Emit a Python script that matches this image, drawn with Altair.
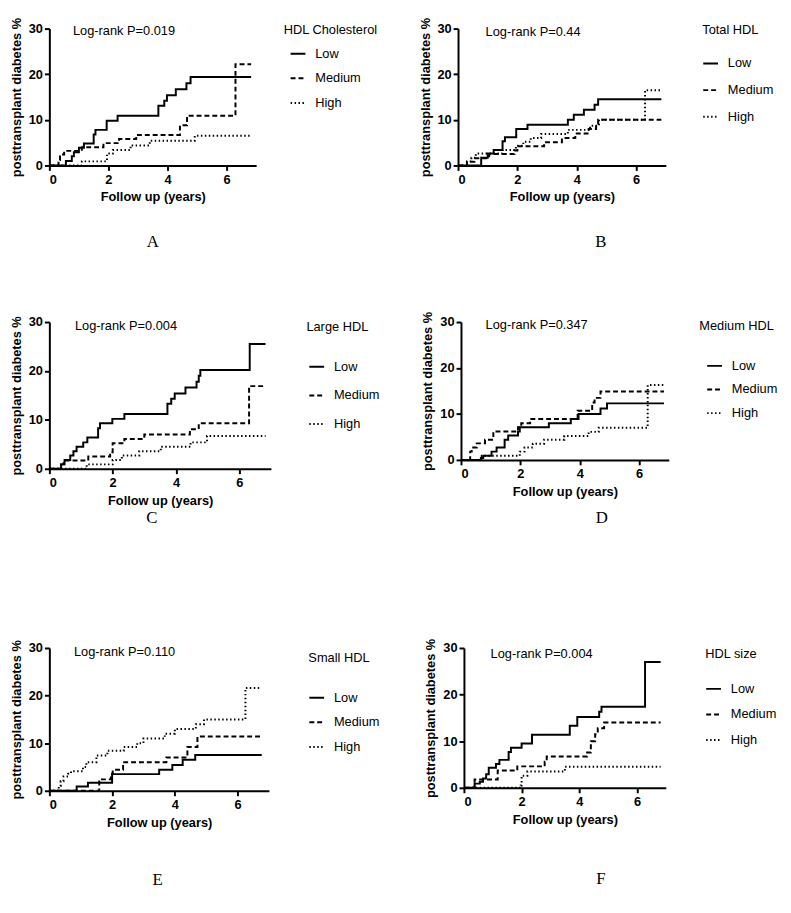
import altair as alt
import pandas as pd

GROUPS = ["Low", "Medium", "High"]
DASHES = [[1, 0], [5, 3], [1.5, 2.5]]
X_TICKS = [0, 2, 4, 6]
Y_TICKS = [0, 10, 20, 30]

# ---- Panel A: HDL Cholesterol ----
A_LOW_T = [0, 0.56, 0.76, 0.83, 1.0, 1.17, 1.5, 1.56, 1.94, 2.31, 3.69, 3.89, 3.98, 4.28, 4.64, 4.78, 6.83]
A_LOW_V = [0, 1.0, 2.0, 2.9, 3.9, 4.8, 6.8, 7.8, 9.8, 10.9, 13.1, 14.2, 15.4, 16.7, 18.0, 19.4, 19.4]
A_MED_T = [0, 0.31, 0.36, 0.5, 1.1, 1.83, 2.36, 2.94, 4.42, 4.66, 6.3, 6.83]
A_MED_V = [0, 1.2, 2.4, 3.2, 4.0, 4.9, 5.8, 6.7, 8.8, 10.9, 22.2, 22.2]
A_HIGH_T = [0, 1.1, 1.95, 2.15, 2.75, 3.4, 4.92, 6.83]
A_HIGH_V = [0, 0.9, 2.6, 3.4, 4.4, 5.4, 6.5, 6.5]

# ---- Panel B: Total HDL ----
B_LOW_T = [0, 0.78, 1.0, 1.2, 1.5, 1.58, 1.96, 2.34, 3.7, 3.9, 4.24, 4.6, 4.72, 6.85]
B_LOW_V = [0, 1.7, 2.6, 3.4, 5.3, 6.2, 8.0, 8.9, 10.0, 11.1, 12.2, 13.3, 14.5, 14.5]
B_MED_T = [0, 0.3, 0.55, 1.05, 1.9, 2.0, 2.9, 3.5, 3.95, 4.4, 4.65, 4.72, 6.85]
B_MED_V = [0, 0.8, 1.6, 2.5, 3.3, 4.2, 5.1, 6.0, 7.0, 8.0, 9.0, 10.0, 10.0]
B_HIGH_T = [0, 0.3, 0.45, 0.6, 1.5, 1.95, 2.2, 2.45, 2.8, 3.7, 4.45, 4.75, 6.3, 6.85]
B_HIGH_V = [0, 0.9, 1.7, 2.6, 3.4, 4.3, 5.2, 6.0, 6.9, 7.8, 8.7, 10.0, 16.5, 16.5]

# ---- Panel C: Large HDL ----
C_LOW_T = [0, 0.37, 0.48, 0.66, 0.76, 0.86, 1.07, 1.2, 1.54, 1.6, 1.99, 2.37, 3.73, 3.85, 3.96, 4.3, 4.65, 4.72, 4.77, 6.33, 6.83]
C_LOW_V = [0, 0.9, 1.8, 2.7, 3.6, 4.5, 5.4, 6.4, 8.3, 9.3, 10.2, 11.2, 13.3, 14.3, 15.4, 16.6, 17.8, 19.0, 20.2, 25.5, 25.5]
C_MED_T = [0, 0.37, 0.45, 1.23, 1.92, 2.0, 2.37, 3.0, 4.44, 4.72, 6.31, 6.83]
C_MED_V = [0, 0.9, 1.7, 2.5, 3.4, 5.2, 6.1, 7.0, 8.1, 9.3, 16.9, 16.9]
C_HIGH_T = [0, 1.18, 2.0, 2.29, 2.84, 3.52, 4.46, 4.98, 6.83]
C_HIGH_V = [0, 0.9, 1.8, 2.7, 3.6, 4.5, 5.4, 6.7, 6.7]

# ---- Panel D: Medium HDL ----
D_LOW_T = [0, 0.67, 0.75, 1.03, 1.2, 1.47, 1.59, 1.92, 1.98, 2.96, 3.7, 3.96, 4.7, 4.92, 6.84]
D_LOW_V = [0, 0.4, 0.9, 1.8, 2.7, 4.4, 5.3, 6.2, 7.1, 8.0, 8.9, 10.0, 11.2, 12.3, 12.3]
D_MED_T = [0, 0.31, 0.36, 0.53, 0.81, 1.09, 1.92, 2.03, 2.33, 3.93, 4.42, 4.5, 4.7, 6.84]
D_MED_V = [0, 1.8, 2.7, 3.6, 4.4, 6.2, 7.1, 8.0, 8.9, 10.7, 12.5, 13.5, 14.9, 14.9]
D_HIGH_T = [0, 0.7, 1.98, 2.14, 2.42, 2.8, 3.48, 4.3, 4.64, 6.29, 6.84]
D_HIGH_V = [0, 0.9, 1.8, 2.7, 3.5, 4.4, 5.2, 6.1, 7.0, 16.3, 16.3]

# ---- Panel E: Small HDL ----
E_LOW_T = [0, 0.87, 1.23, 2.0, 3.5, 3.92, 4.25, 4.65, 6.77]
E_LOW_V = [0, 0.9, 1.7, 3.5, 4.4, 5.4, 6.5, 7.5, 7.5]
E_MED_T = [0, 1.59, 1.96, 2.02, 2.35, 3.73, 4.4, 4.72, 6.77]
E_MED_V = [0, 2.4, 3.6, 4.4, 6.0, 7.0, 9.2, 11.4, 11.4]
E_HIGH_T = [0, 0.3, 0.36, 0.45, 0.6, 0.69, 1.07, 1.18, 1.5, 1.85, 2.37, 2.8, 3.0, 3.68, 4.0, 4.67, 4.93, 6.25, 6.77]
E_HIGH_V = [0, 1.0, 2.0, 3.0, 3.6, 4.1, 5.0, 6.0, 7.4, 8.4, 9.2, 10.0, 11.0, 12.0, 13.0, 14.0, 15.0, 21.6, 21.6]

# ---- Panel F: HDL size ----
F_LOW_T = [0, 0.37, 0.55, 0.66, 0.77, 0.86, 1.11, 1.23, 1.55, 1.63, 2.0, 2.36, 3.67, 3.93, 4.69, 4.77, 6.28, 6.82]
F_LOW_V = [0, 0.9, 1.3, 2.0, 2.9, 4.3, 5.1, 6.0, 7.7, 8.6, 9.5, 11.4, 13.3, 15.2, 16.3, 17.4, 27.0, 27.0]
F_MED_T = [0, 0.37, 1.17, 1.85, 2.8, 2.87, 4.27, 4.4, 4.55, 4.64, 4.86, 6.82]
F_MED_V = [0, 1.8, 3.7, 4.6, 5.6, 6.7, 7.6, 10.0, 11.5, 12.8, 14.0, 14.0]
F_HIGH_T = [0, 1.97, 2.0, 2.2, 3.5, 6.82]
F_HIGH_V = [0, 0.5, 2.6, 3.5, 4.5, 4.5]

TITLES = ["HDL Cholesterol", "Total HDL", "Large HDL", "Medium HDL", "Small HDL", "HDL size"]
PVALUES = ["Log-rank P=0.019", "Log-rank P=0.44", "Log-rank P=0.004",
           "Log-rank P=0.347", "Log-rank P=0.110", "Log-rank P=0.004"]
LETTERS = ["A", "B", "C", "D", "E", "F"]

SANS = "Liberation Sans"


def panel(title, pval, letter, series, w, h, leg, pv_pos, letter_pos):
    rows = []
    for g, (ts, vs) in zip(GROUPS, series):
        for t, v in zip(ts, vs):
            rows.append({"t": t, "v": v, "g": g})
    df = pd.DataFrame(rows)
    lx, ly, tpad, rpad, soff = leg
    lines = alt.Chart(df).mark_line(
        interpolate="step-after", color="black", strokeWidth=2
    ).encode(
        x=alt.X("t:Q", scale=alt.Scale(domain=[0, 7], nice=False),
                axis=alt.Axis(values=X_TICKS, title="Follow up (years)")),
        y=alt.Y("v:Q", scale=alt.Scale(domain=[0, 30], nice=False),
                axis=alt.Axis(values=Y_TICKS, title="posttransplant diabetes %")),
        strokeDash=alt.StrokeDash(
            "g:N",
            scale=alt.Scale(domain=GROUPS, range=DASHES),
            legend=alt.Legend(
                title=title, orient="none", legendX=lx, legendY=ly,
                symbolType="stroke", symbolSize=225, symbolStrokeWidth=2,
                symbolStrokeColor="black", symbolOffset=soff,
                labelFont=SANS, labelFontSize=13, labelColor="black", labelOffset=9,
                titleFont=SANS, titleFontSize=13, titleFontWeight="normal",
                titleColor="black", titlePadding=tpad, rowPadding=rpad, padding=0,
            ),
        ),
    )
    ptxt = alt.Chart(pd.DataFrame({"s": [pval]})).mark_text(
        font=SANS, fontSize=13, align="left", baseline="middle", color="black"
    ).encode(text="s:N", x=alt.value(pv_pos[0]), y=alt.value(pv_pos[1]))
    ltxt = alt.Chart(pd.DataFrame({"s": [letter]})).mark_text(
        font="Liberation Serif", fontSize=17, align="center", baseline="middle", color="black"
    ).encode(text="s:N", x=alt.value(letter_pos[0]), y=alt.value(letter_pos[1]))
    return alt.layer(lines, ptxt, ltxt).properties(width=w, height=h)


pA = panel(TITLES[0], PVALUES[0], LETTERS[0],
           [(A_LOW_T, A_LOW_V), (A_MED_T, A_MED_V), (A_HIGH_T, A_HIGH_V)],
           210, 139, (238, -5, 9, 9, 6), (24, 3), (105, 217))
pB = panel(TITLES[1], PVALUES[1], LETTERS[1],
           [(B_LOW_T, B_LOW_V), (B_MED_T, B_MED_V), (B_HIGH_T, B_HIGH_V)],
           211, 139, (248, -5, 19, 11, 0), (28, 4), (145, 217))
pC = panel(TITLES[2], PVALUES[2], LETTERS[2],
           [(C_LOW_T, C_LOW_V), (C_MED_T, C_MED_V), (C_HIGH_T, C_HIGH_V)],
           225, 149, (261, -1, 25, 13, 2), (26, 4), (104, 199))
pD = panel(TITLES[3], PVALUES[3], LETTERS[3],
           [(D_LOW_T, D_LOW_V), (D_MED_T, D_MED_V), (D_HIGH_T, D_HIGH_V)],
           211, 140, (242, -2, 25, 8, 7), (25, 3), (143, 199))
pE = panel(TITLES[4], PVALUES[4], LETTERS[4],
           [(E_LOW_T, E_LOW_V), (E_MED_T, E_MED_V), (E_HIGH_T, E_HIGH_V)],
           223, 145, (263, 4, 25, 9, 0), (25, 4), (110, 236))
pF = panel(TITLES[5], PVALUES[5], LETTERS[5],
           [(F_LOW_T, F_LOW_V), (F_MED_T, F_MED_V), (F_HIGH_T, F_HIGH_V)],
           205, 142, (245, 0, 20, 10, 0), (27, 6), (139, 235))


def row(left, right, gap):
    return alt.hconcat(left, right, spacing=gap, bounds="flush").resolve_scale(
        strokeDash="independent").resolve_legend(strokeDash="independent")


row1 = row(pA, pB, 205)
row2 = row(pC, pD, 193)
row3 = row(pE, pF, 198)

upper = alt.vconcat(row1, row2, spacing=62).resolve_scale(
    strokeDash="independent").resolve_legend(strokeDash="independent")

chart = alt.vconcat(upper, row3, spacing=114).resolve_scale(
    strokeDash="independent"
).resolve_legend(strokeDash="independent").configure_view(
    stroke=None
).configure_axis(
    grid=False, domainColor="black", domainWidth=2, tickColor="black", tickWidth=2,
    tickSize=5, labelFont=SANS, labelFontSize=13, labelFontWeight="bold",
    labelColor="black", titleFont=SANS, titleFontSize=13, titleFontWeight="bold",
    titleColor="black",
).configure_axisX(labelPadding=3, titlePadding=5).configure_axisY(
    labelPadding=2, titlePadding=5
).properties(background="white", padding={"left": 2, "top": 2, "right": 5, "bottom": 5})

chart.save("out.html", embed_options={"renderer": "svg", "actions": False})
